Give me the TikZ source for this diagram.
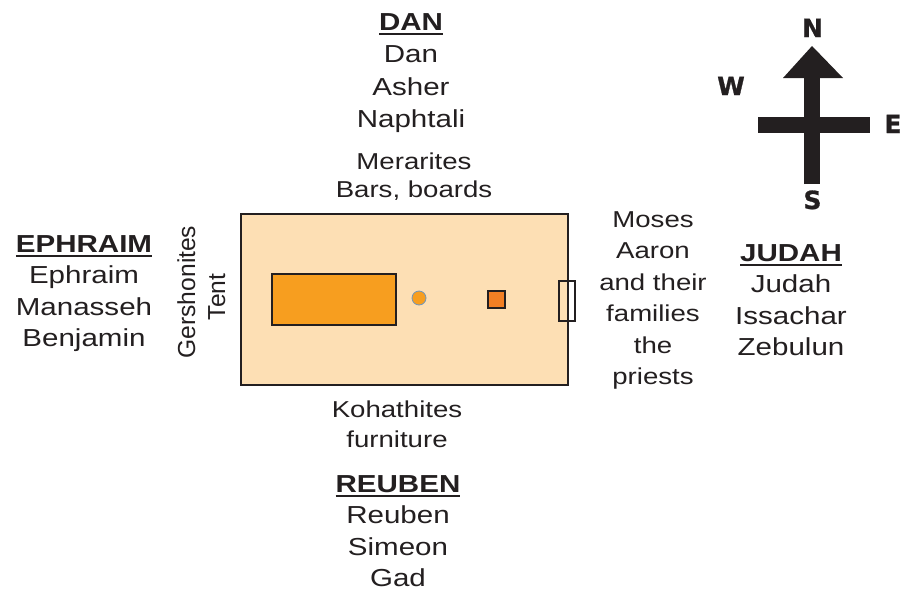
\documentclass[tikz,border=0pt]{standalone}
\usepackage{fontspec}
\setmainfont{Liberation Sans}[FakeStretch=1.2]
\newfontfamily\sideface{Liberation Sans}
\newfontfamily\compassface{DejaVu Sans}[UprightFont={* Bold}, FakeBold=1]
\usepackage{tikz}
\usetikzlibrary{arrows.meta}
\definecolor{inkgray}{RGB}{35, 31, 32}
\definecolor{courtpeach}{RGB}{253, 223, 180}
\definecolor{tentorange}{RGB}{247, 158, 31}
\definecolor{altarorange}{RGB}{242, 127, 36}
\definecolor{laverblue}{RGB}{110, 150, 190}
\newsavebox{\headbox}
\newcommand{\tribehead}[1]{\sbox{\headbox}{\bfseries #1}\rlap{\rule[-4.5pt]{\wd\headbox}{2pt}}\usebox{\headbox}}

\begin{document}
\begin{tikzpicture}[
    x=1pt, y=-1pt,
    tribe/.style={align=center, anchor=north, inner sep=0pt, text=inkgray, font=\fontsize{24.6}{31.6}\selectfont},
    duty/.style={align=center, anchor=north, inner sep=0pt, text=inkgray, font=\fontsize{23}{30}\selectfont},
    side/.style={anchor=base, inner sep=0pt, rotate=90, text=inkgray, font=\sideface\fontsize{24.6}{30}\selectfont},
    wall/.style={draw=inkgray, line width=2.5pt, inner sep=0pt},
    compassbar/.style={draw=inkgray, line width=16pt},
    compassletter/.style={anchor=base, inner sep=0pt, text=inkgray, font=\compassface\fontsize{25}{30}\selectfont}
]
    \useasboundingbox (0,0) rectangle (901,592);

    % Courtyard and furniture
    \node[wall, fill=courtpeach, minimum width=327pt, minimum height=171pt] (court) at (404.5,299.5) {};
    \node[wall, fill=tentorange, minimum width=124pt, minimum height=51pt] (tabernacle) at (334,299.5) {};
    \node[circle, draw=laverblue, line width=0.8pt, fill=tentorange, minimum size=14pt, inner sep=0pt] (laver) at (419,298) {};
    \node[wall, fill=altarorange, minimum width=17pt, minimum height=17pt] (altar) at (496.5,299.5) {};
    \node[wall, line width=2pt, minimum width=16pt, minimum height=40pt] (gate) at (567,301) {};

    % Levite duties
    \node[duty, font=\fontsize{23}{28}\selectfont] (merarites) at (414,152.5) {Merarites\\Bars, boards};
    \node[duty] (kohathites) at (397,400.5) {Kohathites\\furniture};
    \node[duty, font=\fontsize{23}{31.4}\selectfont] (priests) at (653,211.5) {Moses\\Aaron\\and their\\families\\the\\priests};
    \node[side] (gershonites) at (195,292) {Gershonites};
    \node[side] (tent) at (225,297) {Tent};

    % Tribe camps
    \node[tribe, font=\fontsize{24.6}{32.3}\selectfont] (dan) at (411,13.4) {\tribehead{DAN}\\Dan\\Asher\\Naphtali};
    \node[tribe, font=\fontsize{24.6}{31.3}\selectfont] (ephraim) at (84,235.4) {\tribehead{EPHRAIM}\\Ephraim\\Manasseh\\Benjamin};
    \node[tribe] (judah) at (791,244) {\tribehead{JUDAH}\\Judah\\Issachar\\Zebulun};
    \node[tribe] (reuben) at (398,475) {\tribehead{REUBEN}\\Reuben\\Simeon\\Gad};

    % Compass
    \coordinate (stemfoot) at (812,184);
    \coordinate (stemtop) at (812,77);
    \coordinate (headleft) at (783,78);
    \coordinate (headright) at (843,78);
    \coordinate (headtip) at (812,46);
    \coordinate (armwest) at (758,125);
    \coordinate (armeast) at (870,125);
    \draw[compassbar] (stemfoot) -- (stemtop);
    \fill[inkgray] (headleft) -- (headtip) -- (headright) -- cycle;
    \draw[compassbar] (armwest) -- (armeast);
    \node[compassletter] (north) at (812.5,37) {N};
    \node[compassletter] (west) at (731,95) {W};
    \node[compassletter] (east) at (893,133) {E};
    \node[compassletter] (south) at (812.5,209) {S};

\end{tikzpicture}
\end{document}
